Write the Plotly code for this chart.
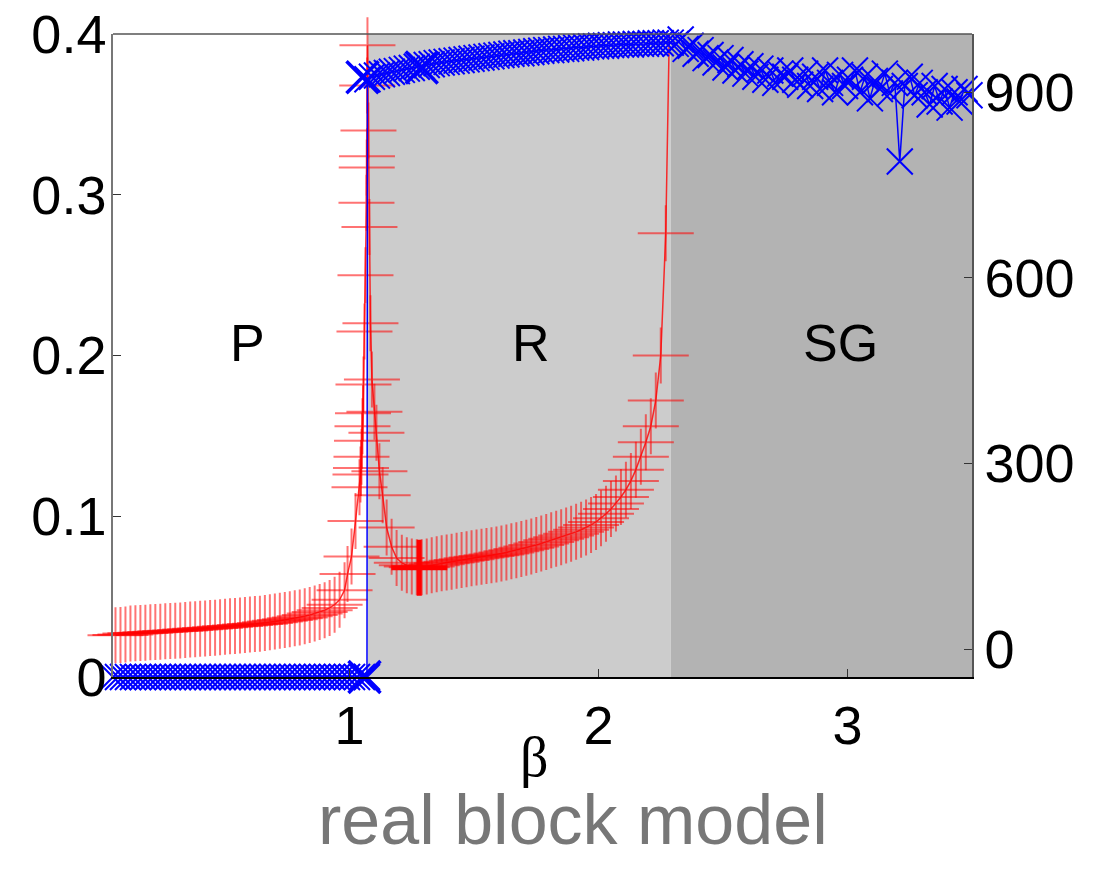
import plotly.graph_objects as go

# ---------------- data ----------------
# red series (left axis): beta and value
beta_red = [
    0.06, 0.08, 0.10, 0.12, 0.14, 0.16, 0.18, 0.20, 0.22, 0.24, 0.26, 0.28, 0.30, 0.32, 0.34, 0.36,
    0.38, 0.40, 0.42, 0.44, 0.46, 0.48, 0.50, 0.52, 0.54, 0.56, 0.58, 0.60, 0.62, 0.64, 0.66, 0.68,
    0.70, 0.72, 0.74, 0.76, 0.78, 0.80, 0.82, 0.84, 0.86, 0.88, 0.90, 0.92, 0.94, 0.96, 0.98,
    0.992, 1.008, 1.024, 1.040, 1.044, 1.046, 1.048, 1.050, 1.052, 1.054, 1.056, 1.060, 1.064,
    1.068, 1.069, 1.070, 1.071, 1.072, 1.076, 1.080, 1.084, 1.090, 1.100, 1.108, 1.120, 1.133,
    1.149, 1.169, 1.189, 1.21, 1.23, 1.25, 1.27,
    1.29, 1.31, 1.33, 1.35, 1.37, 1.39, 1.41, 1.43, 1.45, 1.47, 1.49, 1.51, 1.53, 1.55, 1.57, 1.59,
    1.61, 1.63, 1.65, 1.67, 1.69, 1.71, 1.73, 1.75, 1.77, 1.79, 1.81, 1.83, 1.85, 1.87, 1.89, 1.91,
    1.93, 1.95, 1.97, 1.99, 2.01, 2.03, 2.05, 2.07, 2.09, 2.11, 2.13, 2.15, 2.17, 2.19, 2.21, 2.23,
    2.25, 2.27, 2.29,
]
value_red = [
    0.0260, 0.0262, 0.0265, 0.0270, 0.0272, 0.0274, 0.0276, 0.0278, 0.0280, 0.0282, 0.0284, 0.0286,
    0.0288, 0.0290, 0.0292, 0.0295, 0.0297, 0.0300, 0.0302, 0.0305, 0.0307, 0.0310, 0.0312, 0.0315,
    0.0318, 0.0320, 0.0323, 0.0326, 0.0329, 0.0332, 0.0336, 0.0340, 0.0345, 0.0350, 0.0355, 0.0360,
    0.0365, 0.0370, 0.0378, 0.0386, 0.0395, 0.0405, 0.0415, 0.0430, 0.0450, 0.0480, 0.0540,
    0.064, 0.075, 0.097, 0.118, 0.126, 0.130, 0.137, 0.147, 0.156, 0.164, 0.182, 0.215, 0.250,
    0.295, 0.317, 0.324, 0.368, 0.393, 0.340, 0.280, 0.220, 0.185, 0.165, 0.152, 0.128, 0.113,
    0.093, 0.081, 0.074, 0.0710, 0.0695, 0.0688, 0.0683,
    0.0682, 0.0688, 0.0695, 0.0701, 0.0707, 0.0712, 0.0717, 0.0723, 0.0728, 0.0733, 0.0738, 0.0743,
    0.0748, 0.0752, 0.0757, 0.0762, 0.0768, 0.0775, 0.0782, 0.0789, 0.0796, 0.0804, 0.0812, 0.0821,
    0.0830, 0.0840, 0.0850, 0.0860, 0.0870, 0.0880, 0.0891, 0.0903, 0.0916, 0.0930, 0.0946, 0.0965,
    0.0988, 0.1015, 0.1045, 0.1080, 0.1120, 0.1165, 0.1220, 0.1290, 0.1370, 0.1460, 0.1560, 0.1720,
    0.2000, 0.2760, 0.4500,
]
beta_red_best = [1.28]
value_red_best = [0.068]

# blue series (right axis)
beta_blue = [
    0.05, 0.07, 0.09, 0.11, 0.13, 0.15, 0.17, 0.19, 0.21, 0.23, 0.25, 0.27, 0.29, 0.31, 0.33, 0.35,
    0.37, 0.39, 0.41, 0.43, 0.45, 0.47, 0.49, 0.51, 0.53, 0.55, 0.57, 0.59, 0.61, 0.63, 0.65, 0.67,
    0.69, 0.71, 0.73, 0.75, 0.77, 0.79, 0.81, 0.83, 0.85, 0.87, 0.89, 0.91, 0.93, 0.95, 0.97, 0.99,
    1.01, 1.03, 1.05, 1.07,
    1.072, 1.09, 1.11, 1.13, 1.15, 1.17, 1.19, 1.21, 1.23, 1.25, 1.27, 1.29, 1.31, 1.33, 1.35, 1.37,
    1.39, 1.41, 1.43, 1.45, 1.47, 1.49, 1.51, 1.53, 1.55, 1.57, 1.59, 1.61, 1.63, 1.65, 1.67, 1.69,
    1.71, 1.73, 1.75, 1.77, 1.79, 1.81, 1.83, 1.85, 1.87, 1.89, 1.91, 1.93, 1.95, 1.97, 1.99, 2.01,
    2.03, 2.05, 2.07, 2.09, 2.11, 2.13, 2.15, 2.17, 2.19, 2.21, 2.23, 2.25, 2.27, 2.29,
    2.31, 2.33, 2.35, 2.37, 2.39, 2.41, 2.43, 2.45, 2.47, 2.49, 2.51, 2.53, 2.55, 2.57, 2.59, 2.61,
    2.63, 2.65, 2.67, 2.69, 2.71, 2.73, 2.75, 2.77, 2.79, 2.81, 2.83, 2.85, 2.87, 2.89, 2.91, 2.93,
    2.95, 2.97, 2.99, 3.01, 3.03, 3.05, 3.07, 3.09, 3.11, 3.13, 3.15, 3.17, 3.19, 3.21, 3.23, 3.25,
    3.27, 3.29, 3.31, 3.33, 3.35, 3.37, 3.39, 3.41, 3.43, 3.45, 3.47, 3.49,
]
value_blue = [
    -45, -45, -45, -45, -45, -45, -45, -45, -45, -45, -45, -45, -45, -45, -45, -45,
    -45, -45, -45, -45, -45, -45, -45, -45, -45, -45, -45, -45, -45, -45, -45, -45,
    -45, -45, -45, -45, -45, -45, -45, -45, -45, -45, -45, -45, -45, -45, -45, -45,
    -45, -45, -45, -45,
    921, 925, 927, 929, 931, 933, 934, 936, 938, 939, 941, 942, 944, 945, 947, 948,
    949, 950, 951, 952, 953, 954, 955, 956, 957, 958, 959, 960, 961, 962, 963, 963,
    964, 965, 966, 967, 968, 968, 969, 970, 970, 971, 972, 972, 973, 974, 974, 975,
    975, 976, 976, 977, 977, 977, 978, 978, 978, 979, 979, 979, 980, 980,
    978, 985, 970, 975, 962, 968, 955, 960, 948, 955, 940, 952, 935, 945, 930, 942,
    925, 938, 920, 935, 915, 930, 925, 935, 920, 912, 930, 910, 925, 905, 935, 915,
    900, 928, 910, 920, 935, 900, 925, 890, 918, 905, 930, 898, 915, 788, 910, 925,
    895, 915, 900, 880, 910, 885, 905, 875, 900, 885, 905, 895,
]
beta_blue_mark = [1.06, 1.052, 1.29]
value_blue_mark = [-45, 924, 940]

# phases
phase_edges = [0.05, 1.072, 2.29, 3.5]
phase_colors = ["rgba(0,0,0,0)", "#cccccc", "#b3b3b3"]
phase_labels = ["P", "R", "SG"]
phase_label_beta = [0.59, 1.73, 2.97]
phase_label_value = 0.208

x_ticks = [1, 2, 3]
y_ticks = [0, 0.1, 0.2, 0.3, 0.4]
y_ticktext = ["0", "0.1", "0.2", "0.3", "0.4"]
y2_ticks = [0, 300, 600, 900]

FONT = "Liberation Sans, Arial, Helvetica, sans-serif"

fig = go.Figure()

fig.add_trace(go.Scatter(
    x=beta_red, y=value_red, mode="lines+markers", yaxis="y",
    line=dict(color="rgba(255,0,0,0.8)", width=1.5),
    marker=dict(symbol="cross-thin", size=40, color="rgba(255,0,0,0.55)",
                line=dict(color="rgba(255,0,0,0.55)", width=2)),
    cliponaxis=False, hoverinfo="skip"))
fig.add_trace(go.Scatter(
    x=beta_red_best, y=value_red_best, mode="markers", yaxis="y",
    marker=dict(symbol="cross-thin", size=40, color="#ff0000",
                line=dict(color="#ff0000", width=5)),
    cliponaxis=False, hoverinfo="skip"))
fig.add_trace(go.Scatter(
    x=beta_blue, y=value_blue, mode="lines+markers", yaxis="y2",
    line=dict(color="#0000ff", width=1.5),
    marker=dict(symbol="x-thin", size=26, color="#0000ff",
                line=dict(color="#0000ff", width=2)),
    cliponaxis=False, hoverinfo="skip"))
fig.add_trace(go.Scatter(
    x=beta_blue_mark, y=value_blue_mark, mode="markers", yaxis="y2",
    marker=dict(symbol="x-thin", size=32, color="#0000ff",
                line=dict(color="#0000ff", width=3.5)),
    cliponaxis=False, hoverinfo="skip"))

shapes = []
for i in range(3):
    shapes.append(dict(type="rect", xref="x", yref="paper",
                       x0=phase_edges[i], x1=phase_edges[i + 1], y0=0, y1=1,
                       fillcolor=phase_colors[i], line=dict(width=0), layer="below"))
shapes.append(dict(type="line", xref="paper", yref="paper", x0=0, x1=1, y0=1, y1=1,
                   line=dict(color="#555555", width=1.5)))

annotations = []
for lab, bx in zip(phase_labels, phase_label_beta):
    annotations.append(dict(x=bx, y=phase_label_value, xref="x", yref="y", text=lab,
                            showarrow=False, font=dict(family=FONT, size=52, color="black")))
annotations.append(dict(x=0.491, y=-0.124, xref="paper", yref="paper", text="β",
                        xanchor="center", yanchor="middle", showarrow=False,
                        font=dict(family="Liberation Serif, Times New Roman, serif",
                                  size=56, color="black")))
annotations.append(dict(x=0.535, y=-0.222, xref="paper", yref="paper", text="real block model",
                        xanchor="center", yanchor="middle", showarrow=False,
                        font=dict(family=FONT, size=70, color="#777777")))

fig.update_layout(
    width=1102, height=871,
    margin=dict(l=113, r=130, t=34, b=194, pad=0),
    paper_bgcolor="white", plot_bgcolor="white",
    showlegend=False,
    shapes=shapes, annotations=annotations,
    xaxis=dict(range=[0.05, 3.5], tickvals=x_ticks, ticks="inside", ticklen=8, tickcolor="#333",
               showline=True, linecolor="black", linewidth=1.5, showgrid=False, zeroline=False,
               automargin=False,
               tickfont=dict(family=FONT, size=54, color="black")),
    yaxis=dict(range=[0, 0.4], tickvals=y_ticks, ticktext=y_ticktext, ticks="inside", ticklen=8,
               tickcolor="#333", showline=True, linecolor="#777777", linewidth=1.5,
               showgrid=False, zeroline=False, automargin=False, ticklabelstandoff=-6,
               tickfont=dict(family=FONT, size=54, color="black")),
    yaxis2=dict(range=[-45, 994], tickvals=y2_ticks, overlaying="y", side="right",
                ticks="inside", ticklen=8, tickcolor="#333", showline=True, linecolor="#555555",
                linewidth=1.5, showgrid=False, zeroline=False, automargin=False,
                tickfont=dict(family=FONT, size=54, color="black")),
)

fig.write_html("out.html")
